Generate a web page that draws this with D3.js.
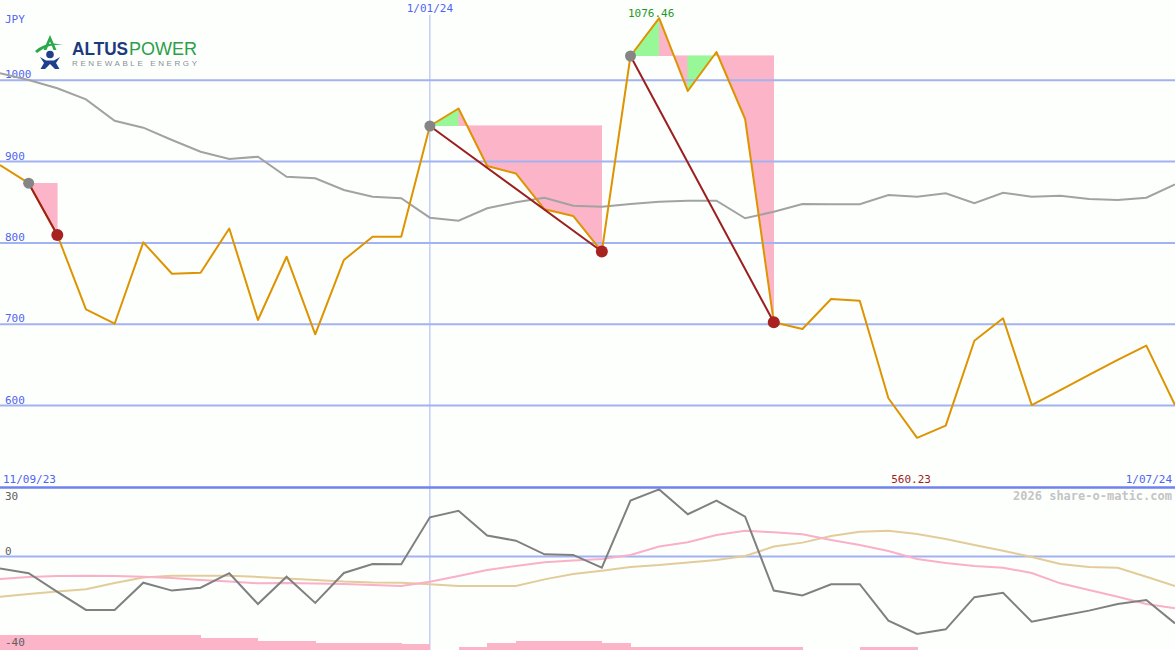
<!DOCTYPE html>
<html><head><meta charset="utf-8">
<script src="https://cdn.jsdelivr.net/npm/d3@7"></script>
<style>
html,body{margin:0;padding:0;background:#fdfffd;}
svg{display:block;}
</style></head>
<body>
<svg id="chart" width="1175" height="650"></svg>
<script>
// ---- data ----
const price = [895.8,873.5,809.7,718.3,700.6,800.7,762,763.3,817.7,705.2,783,687.6,779,807.6,807.6,943.8,965.3,894.6,885.4,841.3,833.1,789.4,1029.9,1076.46,986.8,1034.8,952.4,702.3,694.1,731,728.9,608.9,560.23,575.2,679.7,707.3,600.6,619,637.6,656,673.6,600.6];
const priceMA = [1008.6,1000.4,990.2,976.6,950.3,941.7,926.6,912.2,903.2,906,881.4,879.5,865.1,856.8,854.9,831,827.3,842.6,850,855.6,845.8,844.5,847.8,850.7,851.9,851.9,830.3,838.4,847.8,847.5,847.5,858.9,856.8,861,848.7,861.7,856.8,858,854,852.8,855.6,872];
const momentum = [-5.4,-7.6,-16.1,-24.3,-24.3,-11.9,-15.5,-14.2,-7.6,-21.6,-9.2,-21.1,-7.5,-3.4,-3.5,17.8,20.8,9.5,7.2,1.0,0.7,-5.1,25.4,30.5,19.2,25.4,18.1,-15.5,-17.7,-12.6,-12.6,-29.2,-35.2,-33.1,-18.5,-16.5,-29.6,-27,-24.6,-21.6,-19.8,-30.4];
const momFast = [-10.2,-9.3,-8.9,-8.7,-8.9,-9.2,-9.8,-10.7,-11.4,-12.2,-12,-12.3,-12.5,-13,-13.4,-11.5,-8.9,-6.1,-4.3,-2.6,-1.8,-1.1,0.7,4.5,6.5,9.8,11.7,11,10.1,7.5,5.2,2.5,-1.1,-3,-4.3,-5.1,-7.5,-12.2,-15.2,-18.3,-21.6,-23.5];
const momSlow = [-18.3,-17,-15.9,-14.9,-12,-9.5,-8.7,-8.7,-8.7,-9.3,-10,-10.7,-11.4,-11.8,-11.9,-12.6,-13.4,-13.4,-13.4,-10.4,-8,-6.5,-4.8,-3.9,-2.7,-1.6,0.2,4.5,6.3,9.3,11.3,11.7,10.2,8,5.2,2.6,-0.2,-3.4,-4.8,-5.1,-9.2,-13.4];
const volume = [15,15,15,15,15,15,15,11.7,11.7,9,9,7,7,7,6,0,3.3,6.7,9.3,9.3,9.3,6.7,3.3,3.3,3.3,3.3,3.3,3.3,0,0,2.7,2.7,0,0,0,0,0,0,0,0,0];
const peakIdx = [1,15,22];
const troughIdx = [2,21,27];
const priceTicks = [1000,900,800,700,600];
const lowTicks = [30,0,-40];
const dateLabels = ["11/09/23","1/01/24","1/07/24"];
const markIdx = 15;
const maxLabel = "1076.46", minLabel = "560.23";

// ---- scales ----
const MONO = "DejaVu Sans Mono, monospace";
const SANS = "Liberation Sans, Arial, sans-serif";
const svg = d3.select("#chart");
const W = 1175, H = 650;
const x = d3.scaleLinear().domain([0, price.length-1]).range([0, W]);
const y = d3.scaleLinear().domain([600,1000]).range([405.5, 80.3]);
const yl = d3.scaleLinear().domain([-40,30]).range([644.5, 490.5]);
const yv = d3.scaleLinear().domain([0,15]).range([H, H-15]);

svg.append("rect").attr("width",W).attr("height",H).attr("fill","#fdfffd");

// ---- drawdown fills ----
const gFill = svg.append("g").attr("shape-rendering","crispEdges");
peakIdx.forEach((p,e)=>{
  const t = troughIdx[e], L = price[p];
  for(let k=p;k<t;k++){
    const pts = [[x(k),y(price[k])],[x(k+1),y(price[k+1])],[x(k+1),y(L)],[x(k),y(L)]];
    const c = price[k+1]>price[k] ? "#98f898" : "#fbb4c8";
    gFill.append("path").attr("d","M"+pts.join("L")+"Z")
      .attr("fill", c).attr("fill-rule","evenodd").attr("stroke",c).attr("stroke-width",0.6);
  }
});

// ---- grid ----
svg.append("g").selectAll("line").data(priceTicks).join("line")
  .attr("x1",0).attr("x2",W).attr("y1",d=>y(d)).attr("y2",d=>y(d))
  .attr("stroke","#a3b2f2").attr("stroke-width",2);
svg.append("line").attr("x1",x(markIdx)).attr("x2",x(markIdx)).attr("y1",15).attr("y2",H)
  .attr("stroke","#a8b4ee").attr("stroke-width",1);

svg.append("g").selectAll("text").data(priceTicks).join("text")
  .attr("x",5).attr("y",d=>y(d)-2).text(d=>d).style("font-family",MONO)
  .attr("fill","#5064f0").attr("font-size",11);
svg.append("text").attr("x",5).attr("y",23).text("JPY").style("font-family",MONO).attr("fill","#5064f0").attr("font-size",11);

// ---- lower panel ----
svg.append("line").attr("x1",0).attr("x2",W).attr("y1",yl(0)).attr("y2",yl(0))
  .attr("stroke","#a3b2f2").attr("stroke-width",2);
svg.append("g").attr("shape-rendering","crispEdges").selectAll("rect").data(volume).join("rect")
  .attr("x",(d,i)=>x(i)).attr("width",(d,i)=>x(i+1)-x(i)+0.5)
  .attr("y",d=>yv(d)).attr("height",d=>H-yv(d)).attr("fill","#fbb4c8");

const lineL = d3.line().x((d,i)=>x(i)).y(d=>yl(d));
svg.append("path").attr("d",lineL(momSlow)).attr("fill","none").attr("stroke","#e2cc9a").attr("stroke-width",2);
svg.append("path").attr("d",lineL(momFast)).attr("fill","none").attr("stroke","#f9b0c8").attr("stroke-width",2);
svg.append("path").attr("d",lineL(momentum)).attr("fill","none").attr("stroke","#808080").attr("stroke-width",2);

svg.append("line").attr("x1",0).attr("x2",W).attr("y1",487.5).attr("y2",487.5)
  .attr("stroke","#7082ee").attr("stroke-width",2.5);

const lowOff = {"30":9, "0":-2, "-40":1.5};
svg.append("g").selectAll("text").data(lowTicks).join("text")
  .attr("x",5).attr("y",d=>yl(d)+lowOff[String(d)]).text(d=>d).style("font-family",MONO)
  .attr("fill","#606060").attr("font-size",11);

// ---- main lines ----
const lineM = d3.line().x((d,i)=>x(i)).y(d=>y(d));
svg.append("path").attr("d",lineM(priceMA)).attr("fill","none").attr("stroke","#a2a2a2").attr("stroke-width",2);
svg.append("path").attr("d",lineM(price)).attr("fill","none").attr("stroke","#de9400").attr("stroke-width",2).attr("stroke-linejoin","round");

peakIdx.forEach((p,e)=>{
  const t = troughIdx[e];
  svg.append("line").attr("x1",x(p)).attr("y1",y(price[p])).attr("x2",x(t)).attr("y2",y(price[t]))
    .attr("stroke","#9c1e1e").attr("stroke-width",2);
});
svg.append("g").selectAll("circle").data(peakIdx).join("circle")
  .attr("cx",d=>x(d)).attr("cy",d=>y(price[d])).attr("r",5.5).attr("fill","#858585");
svg.append("g").selectAll("circle").data(troughIdx).join("circle")
  .attr("cx",d=>x(d)).attr("cy",d=>y(price[d])).attr("r",6).attr("fill","#a82222");

// max / min labels
const iMax = price.indexOf(d3.max(price)), iMin = price.indexOf(d3.min(price));
svg.append("text").attr("x",x(iMax)-8).attr("y",y(price[iMax])-1).attr("text-anchor","middle").style("font-family",MONO)
  .text(maxLabel).attr("fill","#1f9a1f").attr("font-size",11);
svg.append("text").attr("x",x(iMin)-6).attr("y",483).attr("text-anchor","middle").style("font-family",MONO)
  .text(minLabel).attr("fill","#a01c1c").attr("font-size",11);

// date labels
svg.append("text").attr("x",3).attr("y",483).text(dateLabels[0]).style("font-family",MONO).attr("fill","#5064f0").attr("font-size",11);
svg.append("text").attr("x",x(markIdx)).attr("y",12).attr("text-anchor","middle").text(dateLabels[1]).style("font-family",MONO).attr("fill","#5064f0").attr("font-size",11);
svg.append("text").attr("x",W-3).attr("y",483).attr("text-anchor","end").text(dateLabels[2]).style("font-family",MONO).attr("fill","#5064f0").attr("font-size",11);

// watermark
svg.append("text").attr("x",W-3).attr("y",500).attr("text-anchor","end").style("font-family",MONO)
  .text("2026 share-o-matic.com").attr("fill","#c4c4c4").attr("font-size",12).attr("font-weight","bold");

// ---- logo ----
const lg = svg.append("g");
lg.append("path").attr("d","M35,51 Q47,40 63,45 Q49,43 37,53 Z").attr("fill","#2aa84a");
lg.append("path").attr("d","M43.5,50 L50,35 L56.5,50 L53.5,50 L50,41.5 L46.5,50 Z").attr("fill","#2aa84a");
lg.append("circle").attr("cx",50).attr("cy",54.5).attr("r",3.8).attr("fill","#1d3f8c");
lg.append("path").attr("d","M40,57 L46,60.5 L54,60.5 L60,57 L56,63 L59.5,69 L55,69 L50,64 L45,69 L40.5,69 L44,63 Z").attr("fill","#1d3f8c");
lg.append("text").attr("x",72).attr("y",55).text("ALTUS").style("font-family",SANS)
  .attr("font-weight","bold").attr("font-size",19).attr("fill","#1d3a80").attr("textLength",56).attr("lengthAdjust","spacingAndGlyphs");
lg.append("text").attr("x",129).attr("y",55).text("POWER").style("font-family",SANS)
  .attr("font-size",19).attr("fill","#2aa04a").attr("textLength",68).attr("lengthAdjust","spacingAndGlyphs");
lg.append("text").attr("x",72).attr("y",66).text("RENEWABLE ENERGY").style("font-family",SANS)
  .attr("font-size",8).attr("fill","#8a8f96").attr("textLength",125);
</script>
</body></html>
